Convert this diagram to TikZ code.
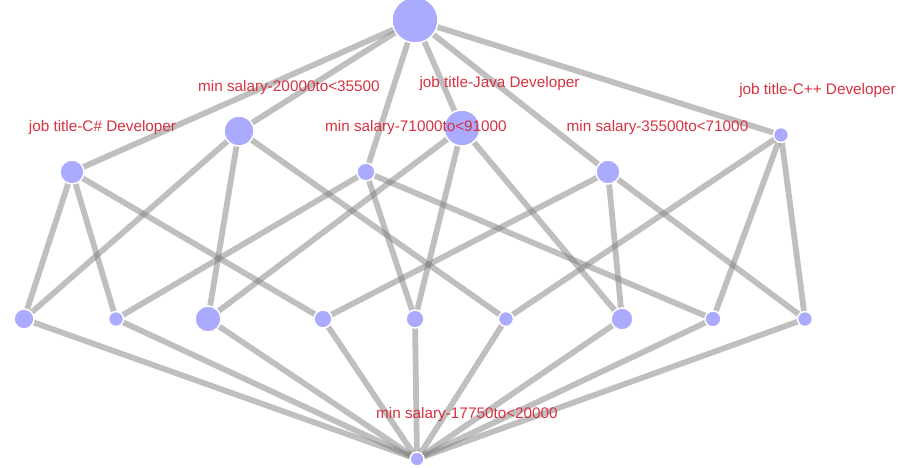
\documentclass[tikz,border=0pt]{standalone}
\usepackage{fontspec}
\setmainfont{Liberation Sans}
\usetikzlibrary{backgrounds}
\definecolor{vfill}{RGB}{170,170,255}
\definecolor{edgegray}{RGB}{128,128,128}
\definecolor{lblred}{RGB}{214,50,64}
\begin{document}
\begin{tikzpicture}[x=1pt,y=-1pt,
  vtx/.style={circle,fill=vfill,draw=white,line width=1.5pt,inner sep=0pt,minimum size=#1},
  edge/.style={draw=edgegray,line width=5.8pt,opacity=0.5},
  lbl/.style={text=lblred,font=\fontsize{15.3}{17}\selectfont,inner sep=0pt,anchor=center}]
\useasboundingbox (0,0) rectangle (907,467);
\clip (0,0) rectangle (907,467);
% top
\node[vtx=46pt] (T) at (415,20) {};
% middle layer
\node[vtx=24pt] (A) at (72,172) {};
\node[vtx=30pt] (B) at (239,131) {};
\node[vtx=18pt] (C) at (366,172) {};
\node[vtx=36pt] (D) at (462,128) {};
\node[vtx=24pt] (E) at (608,172) {};
\node[vtx=15pt] (F) at (781,135) {};
% lower layer
\node[vtx=20pt] (L1) at (24,319) {};
\node[vtx=15pt] (L2) at (116,319) {};
\node[vtx=26pt] (L3) at (208,319) {};
\node[vtx=18pt] (L4) at (323,319) {};
\node[vtx=18pt] (L5) at (415,319) {};
\node[vtx=15pt] (L6) at (506,319) {};
\node[vtx=22pt] (L7) at (622,319) {};
\node[vtx=16pt] (L8) at (713,319) {};
\node[vtx=15pt] (L9) at (805,319) {};
% bottom
\node[vtx=14pt] (Z) at (417,459) {};
% edges
\begin{scope}[on background layer]
\foreach \m in {A,B,C,D,E,F} \draw[edge] (T.center) -- (\m.center);
\foreach \a/\b in {A/L1,A/L2,A/L4,B/L1,B/L3,B/L6,C/L2,C/L5,C/L8,D/L3,D/L5,D/L7,E/L4,E/L7,E/L9,F/L6,F/L8,F/L9}
  \draw[edge] (\a.center) -- (\b.center);
\foreach \l in {L1,L2,L3,L4,L5,L6,L7,L8,L9} \draw[edge] (\l.center) -- (Z.center);
\end{scope}
% labels
\node[lbl] (tA) at (102.5,128) {job title-C\# Developer};
\node[lbl] (tB) at (289,88) {min salary-20000to<35500};
\node[lbl] (tC) at (416,128) {min salary-71000to<91000};
\node[lbl] (tD) at (499.5,84) {job title-Java Developer};
\node[lbl] (tE) at (657.5,128) {min salary-35500to<71000};
\node[lbl] (tF) at (817.5,91) {job title-C++ Developer};
\node[lbl] (tZ) at (467,415) {min salary-17750to<20000};
\end{tikzpicture}
\end{document}
